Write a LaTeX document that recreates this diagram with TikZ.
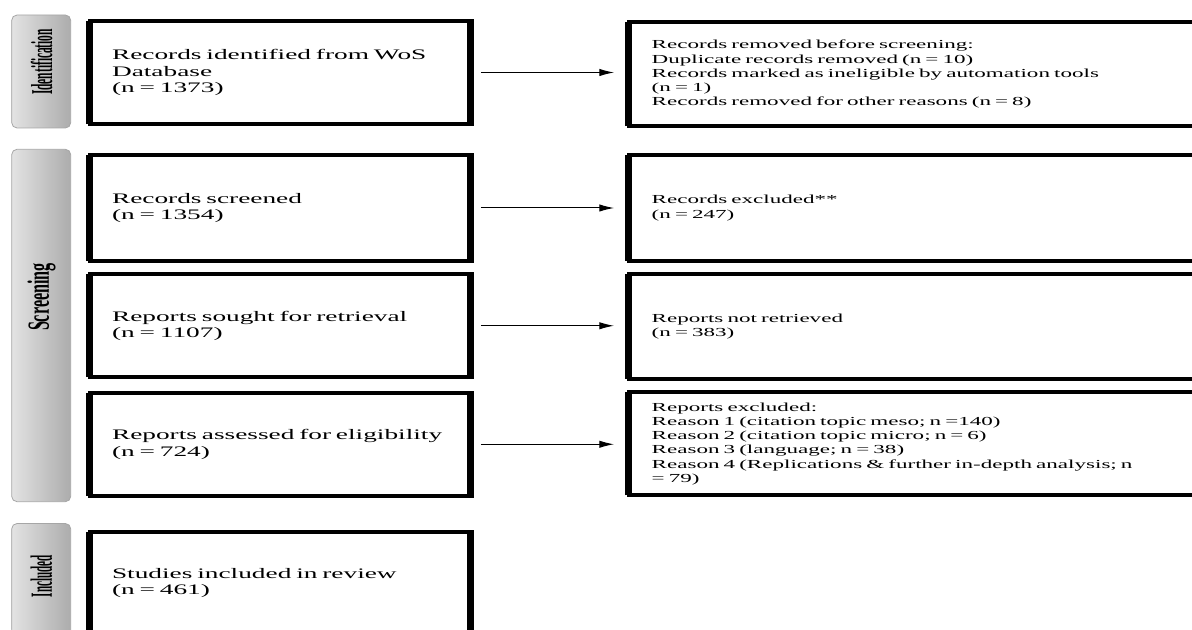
\documentclass[tikz,border=0pt]{standalone}
\usepackage{fontspec}
\setmainfont{Liberation Serif}[FakeStretch=1.88]
\newfontfamily\phasefont{Liberation Serif}
\usetikzlibrary{arrows.meta}

\tikzset{
  phase/.style={draw=gray!70, line width=0.6pt, rounded corners=4pt,
    left color=gray!22, right color=gray!65, minimum width=44.25pt, outer sep=0pt},
  lbox/.style={draw, line width=3pt, outer sep=0pt, anchor=north west,
    inner xsep=16.9pt, inner ysep=0pt, text width=252.3pt, align=left,
    font=\fontsize{10.9}{12.3}\selectfont},
  rbox/.style={draw, line width=3pt, outer sep=0pt, anchor=north west,
    inner xsep=17.25pt, inner ysep=0pt, text width=416pt, align=left,
    font=\fontsize{9.2}{10.6}\selectfont},
  flow/.style={line width=0.75pt, -{Latex[length=11pt,width=5.5pt]},
    shorten <=7.5pt, shorten >=11pt}
}

\begin{document}
\begin{tikzpicture}[x=0.75pt, y=-0.75pt]
  \clip (0,0) rectangle (1192,630);

  % phase labels
  \node[phase, minimum height=84.75pt] (ident) at (41.2,71.5) {};
  \node[phase, minimum height=264.3pt] (screen) at (41.2,325.5) {};
  \node[phase, minimum height=84.75pt] (incl) at (41.2,580) {};
  \node[rotate=90] (identtxt) at (41.5,62) {\resizebox{49.5pt}{16pt}{\phasefont\bfseries Identification}};
  \node[rotate=90] (screentxt) at (41.5,297) {\resizebox{51pt}{16pt}{\phasefont\bfseries Screening}};
  \node[rotate=90] (incltxt) at (41.5,576) {\resizebox{31.5pt}{16pt}{\phasefont\bfseries Included}};

  % left column
  \node[lbox, minimum height=77.25pt] (l1) at (89.5,21) {Records identified from WoS\\ Database\\ (n = 1373)};
  \node[lbox, minimum height=79.5pt] (l2) at (89.5,155) {Records screened\\ (n = 1354)};
  \node[lbox, minimum height=76.9pt] (l3) at (89.5,274.5) {Reports sought for retrieval\\ (n = 1107)};
  \node[lbox, minimum height=76.9pt] (l4) at (89.5,393) {Reports assessed for eligibility\\ (n = 724)};
  \node[lbox, minimum height=77.25pt] (l5) at (89.5,531.5) {Studies included in review\\ (n = 461)};

  % right column
  \node[rbox, minimum height=77.8pt] (r1) at (628.7,22.3) {Records removed before screening:\\ Duplicate records removed (n = 10)\\ Records marked as ineligible by automation tools\\ (n = 1)\\ Records removed for other reasons (n = 8)};
  \node[rbox, minimum height=79.5pt] (r2) at (628.7,155) {Records excluded**\\ (n = 247)};
  \node[rbox, minimum height=78.4pt] (r3) at (628.7,274.5) {Reports not retrieved\\ (n = 383)};
  \node[rbox, minimum height=77.4pt] (r4) at (628.7,392.3) {Reports excluded:\\ Reason 1 (citation topic meso; n =140)\\ Reason 2 (citation topic micro; n = 6)\\ Reason 3 (language; n = 38)\\ Reason 4 (Replications \& further in-depth analysis; n\\ = 79)};

  % heavier side edges
  \foreach \n in {l1,l2,l3,l4,l5,r1,r2,r3,r4}
    \draw[line width=5.25pt, shorten <=-1.5pt, shorten >=-1.5pt]
      (\n.south west) -- (\n.north west) (\n.south east) -- (\n.north east);

  % arrows
  \foreach \i in {1,2,3,4}
    \draw[flow] (l\i.east) -- (l\i.east -| r\i.west);
\end{tikzpicture}
\end{document}
